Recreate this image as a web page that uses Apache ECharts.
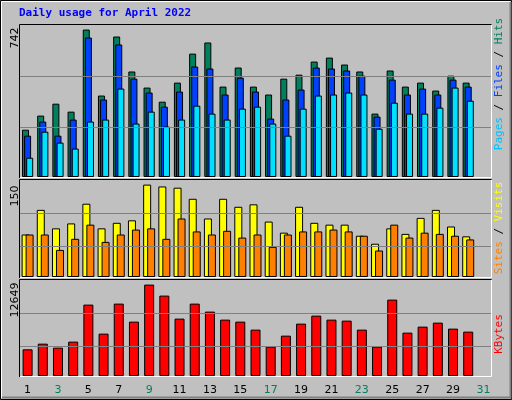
<!DOCTYPE html><html><head><meta charset="utf-8">
<script src="https://cdn.jsdelivr.net/npm/echarts@6/dist/echarts.min.js"></script>
<style>html,body{margin:0;padding:0;background:#c0c0c0}#c{width:512px;height:400px}</style></head><body><div id="c"></div>
<script>
const days=['1','2','3','4','5','6','7','8','9','10','11','12','13','14','15','16','17','18','19','20','21','22','23','24','25','26','27','28','29','30','31'];
const weekend=['2','3','9','10','16','17','23','24','30','31'];
const hits=[238,309,369,329,742,410,707,531,450,379,475,621,677,455,551,455,415,495,515,581,601,566,531,319,536,455,475,435,510,475,null];
const files=[208,279,208,289,702,390,667,495,425,354,430,556,546,415,500,430,294,390,440,551,546,536,510,304,490,415,445,415,490,455,null];
const pages=[97,228,173,143,279,289,445,269,329,254,289,359,319,289,344,354,269,208,344,410,415,425,415,243,374,319,319,349,450,384,null];
const visits=[69,109,79,87,119,79,88,92,150,147,145,127,95,127,114,118,90,72,114,88,85,85,67,54,79,70,96,109,82,66,null];
const sites=[69,69,44,62,85,57,69,77,79,62,95,74,69,75,64,69,49,69,74,74,77,74,67,43,85,64,72,70,67,61,null];
const kbytes=[3693,4478,3924,4755,9878,5862,10017,7524,12649,11125,7940,10017,8909,7801,7524,6416,4062,5585,7247,8355,7801,7663,6416,4062,10571,6001,6832,7386,6555,6139,null];
const maxLabels=['742','150','12649'];
const L=20,R=21,W=471;
const panels=[{top:25,h:152,max:765,lines:[249,505]},{top:180,h:97,max:157.5,lines:[49.4,103]},{top:280,h:96,max:13285,lines:[4069,8636]}];
const grids=panels.map(p=>({left:L,top:p.top,width:W,height:p.h}));
const xAxes=panels.map((p,i)=>({type:'category',data:days,gridIndex:i,axisLine:{show:false},axisTick:{show:false},
 axisLabel:i<2?{show:false}:{show:true,margin:9,fontFamily:'DejaVu Sans',fontSize:11,color:(v)=>weekend.includes(v)?'#008060':'#000',formatter:v=>v}}));
const yAxes=panels.map((p,i)=>({type:'value',gridIndex:i,min:0,max:p.max,show:false,splitLine:{show:false}}));
const ml=(i)=>({silent:true,symbol:'none',label:{show:false},lineStyle:{color:'#808080',type:'solid',width:1},data:panels[i].lines.map(v=>({yAxis:v}))});
const bs={borderColor:'#000',borderWidth:1};
const series=[
 {type:'bar',xAxisIndex:0,yAxisIndex:0,data:hits,barWidth:7,barGap:'-70%',itemStyle:{color:'#00805c',...bs},markLine:ml(0),z:2},
 {type:'bar',xAxisIndex:0,yAxisIndex:0,data:files,barWidth:7,barGap:'-70%',itemStyle:{color:'#0040ff',...bs},z:3},
 {type:'bar',xAxisIndex:0,yAxisIndex:0,data:pages,barWidth:7,barGap:'-70%',itemStyle:{color:'#00e0ff',...bs},z:4},
 {type:'bar',xAxisIndex:1,yAxisIndex:1,data:visits,barWidth:8,barGap:'-50%',itemStyle:{color:'#ffff00',...bs},markLine:ml(1),z:2},
 {type:'bar',xAxisIndex:1,yAxisIndex:1,data:sites,barWidth:8,barGap:'-50%',itemStyle:{color:'#ff8000',...bs},z:3},
 {type:'bar',xAxisIndex:2,yAxisIndex:2,data:kbytes,barWidth:10,itemStyle:{color:'#ff0000',...bs},markLine:ml(2),z:2}
];
const g=[
 {type:'polyline',shape:{points:[[0.5,399.5],[0.5,0.5],[511.5,0.5]]},style:{stroke:'#000',fill:null,lineWidth:1},z:0},
 {type:'polyline',shape:{points:[[511.5,0.5],[511.5,399.5],[0.5,399.5]]},style:{stroke:'#000',fill:null,lineWidth:1},z:0},
 {type:'polyline',shape:{points:[[1.5,398],[1.5,1.5],[510.5,1.5]]},style:{stroke:'#fff',fill:null,lineWidth:1},z:0},
 {type:'polyline',shape:{points:[[510.5,2],[510.5,397.5],[2,397.5]]},style:{stroke:'#808080',fill:null,lineWidth:2},z:0},
 {type:'text',left:19,top:8,style:{text:'Daily usage for April 2022',fill:'#0000ff',font:'bold 11px "DejaVu Sans Mono"'}}
];
const frames=[[24,178],[179,278],[279,377]];
frames.forEach(([t,b])=>{
 g.push({type:'polyline',shape:{points:[[19.5,b],[19.5,t+0.5],[491.5,t+0.5]]},style:{stroke:'#000',fill:null,lineWidth:1},z:1});
 g.push({type:'polyline',shape:{points:[[491.5,t+1],[491.5,b-0.5],[20,b-0.5]]},style:{stroke:'#fff',fill:null,lineWidth:1},z:1});
});
const ylab=[[15,38],[15,196],[15,300]];
maxLabels.forEach((s,i)=>g.push({type:'text',x:ylab[i][0],y:ylab[i][1],rotation:Math.PI/2,style:{text:s,fill:'#000',font:'11px "DejaVu Sans"',align:'center',verticalAlign:'middle'}}));
const mono='11px "DejaVu Sans Mono"';
function rlab(y,parts){
 g.push({type:'text',x:499,y:y,rotation:Math.PI/2,style:{rich:Object.fromEntries(parts.map((p,i)=>['p'+i,{fill:p[1],font:mono}])),text:parts.map((p,i)=>'{p'+i+'|'+p[0]+'}').join(''),align:'center',verticalAlign:'middle'}});
}
rlab(84,[['Pages','#00c0ff'],[' / ','#000'],['Files','#0040ff'],[' / ','#000'],['Hits','#00805c']]);
rlab(228,[['Sites','#ff8000'],[' / ','#000'],['Visits','#ffff00']]);
rlab(334,[['KBytes','#ff0000']]);
const chart=echarts.init(document.getElementById('c'));
chart.setOption({backgroundColor:'#c0c0c0',animation:false,grid:grids,xAxis:xAxes,yAxis:yAxes,series:series,graphic:g});
</script></body></html>
